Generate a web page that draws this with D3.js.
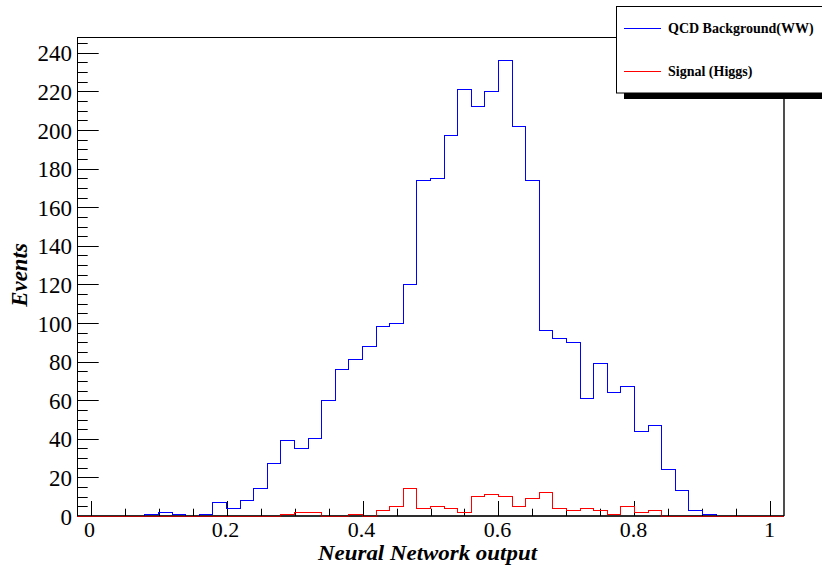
<!DOCTYPE html>
<html>
<head>
<meta charset="utf-8">
<script src="https://cdn.jsdelivr.net/npm/d3@7"></script>
<style>
  body { margin: 0; background: #fff; }
  text { font-family: "Liberation Serif", "Times New Roman", serif; }
</style>
</head>
<body>
<div id="plot"></div>
<script>
const width = 822;
const height = 565;

// histogram binning: 52 bins of 0.02 from -0.02 to 1.02
const binLow = -0.02;
const binWidth = 0.02;

// QCD background (WW), events per bin
const background = [
  0, 0, 0, 0, 0, 1, 2, 1, 0, 1,
  7, 4, 8, 14, 27, 39, 35, 40, 60, 76,
  81, 88, 98, 100, 120, 174, 175, 197, 221, 212,
  220, 236, 202, 174, 96, 92, 90, 61, 79, 64,
  67, 44, 47, 24, 13, 3, 1, 0, 0, 0,
  0, 0
];

// Signal (Higgs), events per bin
const signal = [
  0, 0, 0, 0, 0, 0, 0, 0, 0, 0,
  0, 0, 0, 0, 0, 1, 2, 2, 0, 0,
  1, 0, 3, 5, 14, 4, 5, 4, 2, 10,
  11, 10, 5, 9, 12, 4, 3, 4, 3, 1,
  5, 2, 3, 0, 0, 0, 0, 0, 0, 0,
  0, 0
];

const xTicks = [0, 0.2, 0.4, 0.6, 0.8, 1];
const yTicks = [0, 20, 40, 60, 80, 100, 120, 140, 160, 180, 200, 220, 240];
const legendLabels = ["QCD Background(WW)", "Signal (Higgs)"];
const colors = ["#0000ff", "#ff0000"];

const frame = { left: 77, right: 784, top: 37, bottom: 516 };

const svg = d3.select("#plot").append("svg").attr("width", width).attr("height", height);
svg.append("rect").attr("width", width).attr("height", height).attr("fill", "#fff");

const x = d3.scaleLinear().domain([-0.02, 1.02]).range([frame.left, frame.right]);
const y = d3.scaleLinear().domain([0, 248.2]).range([frame.bottom, frame.top]);

// frame
svg.append("line")
  .attr("x1", frame.left).attr("x2", frame.right)
  .attr("y1", frame.top + 0.5).attr("y2", frame.top + 0.5)
  .attr("stroke", "#000").attr("stroke-width", 1);
svg.append("line")
  .attr("x1", frame.right).attr("x2", frame.right)
  .attr("y1", frame.top).attr("y2", frame.bottom)
  .attr("stroke", "#222").attr("stroke-width", 1.6);

// y axis: major every 20, minor every 5
const yAxis = svg.append("g");
yAxis.append("line")
  .attr("x1", frame.left + 0.5).attr("x2", frame.left + 0.5)
  .attr("y1", frame.top).attr("y2", frame.bottom)
  .attr("stroke", "#000");
for (let v = 0; v <= 245; v += 5) {
  let major = v % 20 === 0;
  yAxis.append("line")
    .attr("x1", frame.left).attr("x2", frame.left + (major ? 21.7 : 10.7))
    .attr("y1", Math.round(y(v)) + 0.5).attr("y2", Math.round(y(v)) + 0.5)
    .attr("stroke", "#000");
}
yAxis.selectAll(".ylab").data(yTicks).enter()
  .append("text")
  .attr("class", "ylab")
  .attr("x", 72)
  .attr("y", d => y(d) + 8.5)
  .attr("text-anchor", "end")
  .attr("font-size", 23)
  .text(d => d);

// x axis ticks: major every 0.2, minor every 0.05
const xAxis = svg.append("g");
for (let i = 0; i <= 20; i++) {
  let v = i * 0.05;
  let major = i % 4 === 0;
  xAxis.append("line")
    .attr("x1", Math.round(x(v)) + 0.5).attr("x2", Math.round(x(v)) + 0.5)
    .attr("y1", frame.bottom).attr("y2", frame.bottom - (major ? 15 : 7.3))
    .attr("stroke", "#000");
}
xAxis.selectAll(".xlab").data(xTicks).enter()
  .append("text")
  .attr("class", "xlab")
  .attr("x", d => x(d) - 1)
  .attr("y", 536.5)
  .attr("text-anchor", "middle")
  .attr("font-size", 22)
  .text(d => d);
xAxis.append("line")
  .attr("x1", frame.left).attr("x2", frame.right)
  .attr("y1", frame.bottom).attr("y2", frame.bottom)
  .attr("stroke", "#000").attr("stroke-width", 1.4);

// histograms as step lines
function histPoints(values) {
  let pts = values.map((v, i) => [binLow + i * binWidth, v]);
  pts.push([binLow + values.length * binWidth, values[values.length - 1]]);
  return pts;
}
const step = d3.line()
  .x(d => x(d[0]))
  .y(d => y(d[1]))
  .curve(d3.curveStepAfter);

[background, signal].forEach((series, k) => {
  svg.append("path")
    .attr("d", step(histPoints(series)))
    .attr("fill", "none")
    .attr("stroke", colors[k])
    .attr("stroke-width", 1)
    .attr("shape-rendering", "crispEdges");
});

// axis line shows through the zero-height histogram lines
svg.append("line")
  .attr("x1", frame.left).attr("x2", frame.right)
  .attr("y1", frame.bottom).attr("y2", frame.bottom)
  .attr("stroke", "#000").attr("stroke-opacity", 0.4).attr("stroke-width", 1.4);

// axis titles
svg.append("text")
  .attr("x", 318)
  .attr("y", 560)
  .attr("font-size", 21)
  .attr("font-weight", "bold")
  .attr("font-style", "italic")
  .attr("textLength", 219)
  .attr("lengthAdjust", "spacingAndGlyphs")
  .text("Neural Network output");

svg.append("text")
  .attr("transform", "translate(27,306.7) rotate(-90)")
  .attr("font-size", 22.5)
  .attr("font-weight", "bold")
  .attr("font-style", "italic")
  .attr("textLength", 63.5)
  .attr("lengthAdjust", "spacingAndGlyphs")
  .text("Events");

// legend with shadow
const legend = svg.append("g");
legend.append("rect")
  .attr("x", 624).attr("y", 93)
  .attr("width", 220).attr("height", 6)
  .attr("fill", "#000");
legend.append("rect")
  .attr("x", 616.5).attr("y", 6.5)
  .attr("width", 230).attr("height", 86.5)
  .attr("fill", "#fff")
  .attr("stroke", "#000");
legendLabels.forEach((label, k) => {
  let ly = k === 0 ? 28.5 : 71.5;
  legend.append("line")
    .attr("x1", 624).attr("x2", 661)
    .attr("y1", ly).attr("y2", ly)
    .attr("stroke", colors[k]);
  legend.append("text")
    .attr("x", 668)
    .attr("y", ly + 4.5)
    .attr("font-size", 14)
    .attr("font-weight", "bold")
    .text(label);
});
</script>
</body>
</html>
